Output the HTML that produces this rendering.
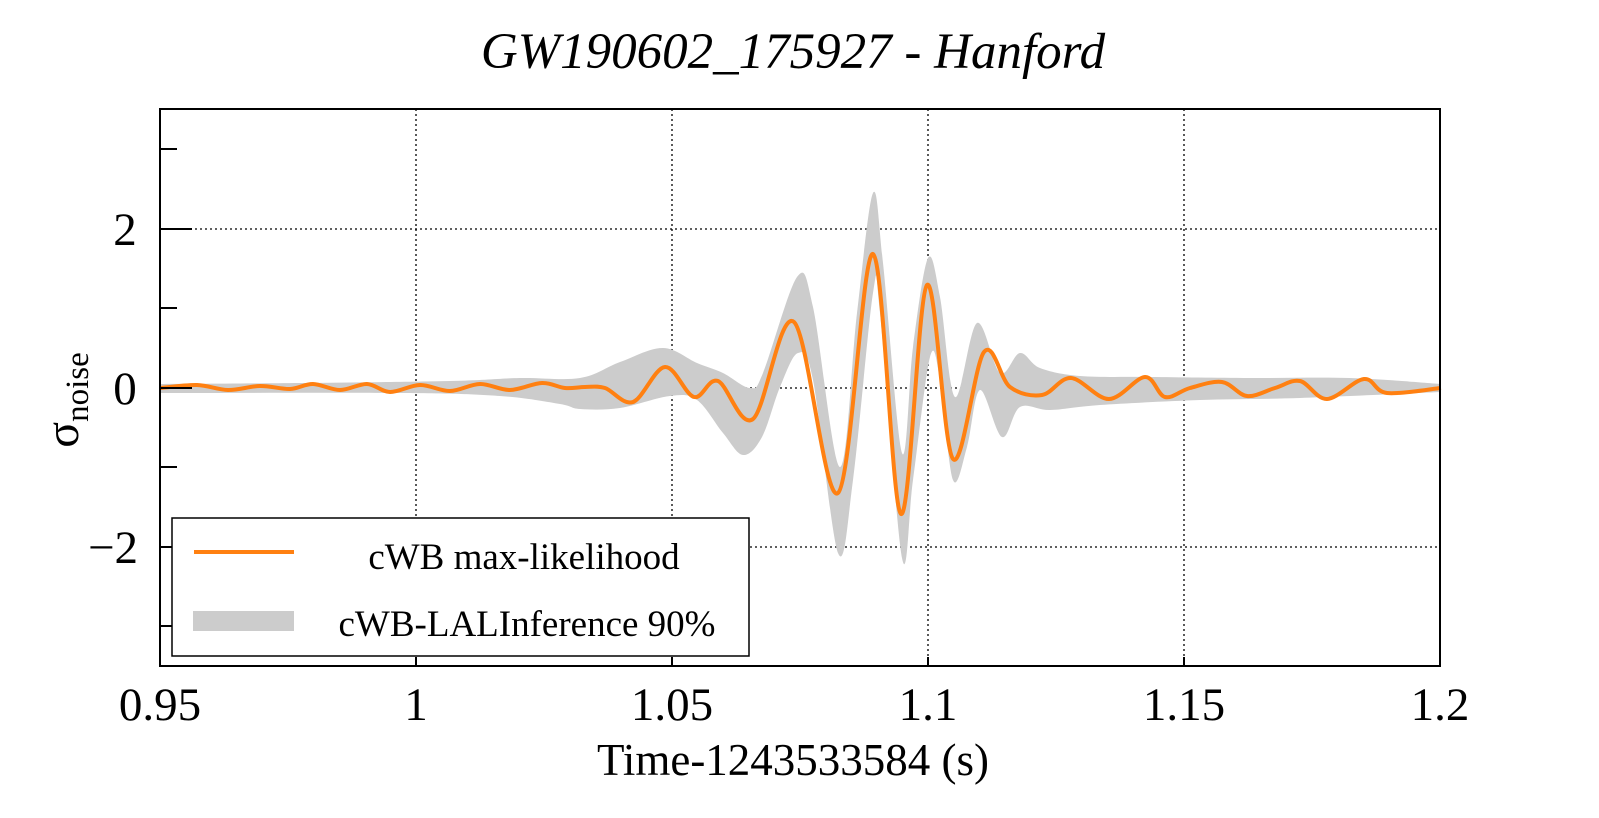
<!DOCTYPE html>
<html><head><meta charset="utf-8"><style>
body{margin:0;background:#fff}
svg text{font-family:"Liberation Serif",serif;fill:#000}
</style></head><body>
<svg id="s" width="1599" height="813" xmlns="http://www.w3.org/2000/svg">
<text x="793" y="68" font-size="51" font-style="italic" text-anchor="middle">GW190602_175927 - Hanford</text>
<g id="grid" stroke="#000" stroke-width="1.3" stroke-dasharray="2,3"></g>
<path id="band" fill="#cccccc" stroke="none"/>
<path id="line" fill="none" stroke="#ff8011" stroke-width="4" stroke-linejoin="round"/>
<rect x="160" y="109" width="1280" height="557" fill="none" stroke="#000" stroke-width="2"/>
<g id="ticks" stroke="#000" stroke-width="2"></g>
<g font-size="47" text-anchor="middle">
<text x="125" y="245">2</text><text x="125" y="404">0</text><text x="113" y="563">−2</text>
<text x="160" y="720">0.95</text><text x="416" y="720">1</text><text x="672" y="720">1.05</text>
<text x="928" y="720">1.1</text><text x="1184" y="720">1.15</text><text x="1440" y="720">1.2</text>
</g>
<text x="793" y="775" font-size="45" text-anchor="middle">Time-1243533584 (s)</text>
<text transform="translate(78,400) rotate(-90)" font-size="48" text-anchor="middle">σ<tspan font-size="33" dy="10">noise</tspan></text>
<rect x="172" y="518" width="577" height="138" fill="#fff" stroke="#000" stroke-width="1.5"/>
<line x1="194" y1="552" x2="294" y2="552" stroke="#ff8011" stroke-width="4"/>
<rect x="193" y="611" width="101" height="20" fill="#cccccc"/>
<g font-size="37" text-anchor="middle"><text x="524" y="569">cWB max-likelihood</text><text x="527" y="636">cWB-LALInference 90%</text></g>
</svg>
<script>
function cr(p){let d="M"+p[0][0]+","+p[0][1];for(let i=0;i<p.length-1;i++){const a=p[i-1]||p[i],b=p[i],c=p[i+1],e=p[i+2]||c;
d+=" C"+(b[0]+(c[0]-a[0])/6).toFixed(1)+","+(b[1]+(c[1]-a[1])/6).toFixed(1)+" "+(c[0]-(e[0]-b[0])/6).toFixed(1)+","+(c[1]-(e[1]-b[1])/6).toFixed(1)+" "+c[0]+","+c[1];}return d;}
const L=[[160,388],[197,385],[228,390],[260,386],[290,389],[313,384],[340,390],[367,384],[390,392],[420,385],[450,391],[480,384],[510,390],[542,383],[565,388],[585,387],[605,388],[633,402],[665,367],[694,397],[718,381],[753,419],[794,322],[838,493],[873,254],[901,514],[927,285],[953,459],[984,352],[1010,387],[1042,395],[1071,378],[1109,399],[1145,377],[1165,397],[1190,388],[1222,382],[1247,396],[1275,388],[1300,381],[1327,399],[1364,379],[1387,393],[1441,388]];
document.getElementById("line").setAttribute("d",cr(L));
const U=[[160,384],[300,383],[450,381],[520,378],[580,378],[620,362],[663,348],[697,363],[723,373],[750,388],[763,373],[797,277],[813,307],[840,467],[857,313],[873,193],[883,263],[902,453],[913,347],[928,258],[940,297],[955,397],[977,323],[1000,373],[1020,353],[1040,368],[1080,376],[1150,377],[1250,378],[1350,378],[1441,384]];
const D=[[160,393],[400,393],[500,396],[560,404],[580,409],[620,408],[670,396],[697,400],[723,433],[743,455],[762,437],[780,387],[798,353],[813,380],[838,553],[853,480],[873,293],[880,313],[902,558],[913,480],[930,357],[940,380],[953,480],[967,447],[980,390],[1002,437],[1020,407],[1050,410],[1100,405],[1200,400],[1300,398],[1441,392]];
document.getElementById("band").setAttribute("d",cr(U)+" L"+cr(D.slice().reverse()).slice(1)+" Z");
let g="",t="";
[229,388,547].forEach(y=>{g+=`<line x1="160" y1="${y}" x2="1440" y2="${y}"/>`;t+=`<line x1="160" y1="${y}" x2="192" y2="${y}"/>`;});
[149,308,467,626].forEach(y=>{t+=`<line x1="160" y1="${y}" x2="177" y2="${y}"/>`;});
[416,672,928,1184].forEach(x=>{g+=`<line x1="${x}" y1="109" x2="${x}" y2="666"/>`;t+=`<line x1="${x}" y1="666" x2="${x}" y2="657"/>`;});
document.getElementById("grid").innerHTML=g;document.getElementById("ticks").innerHTML=t;
</script>
</body></html>
